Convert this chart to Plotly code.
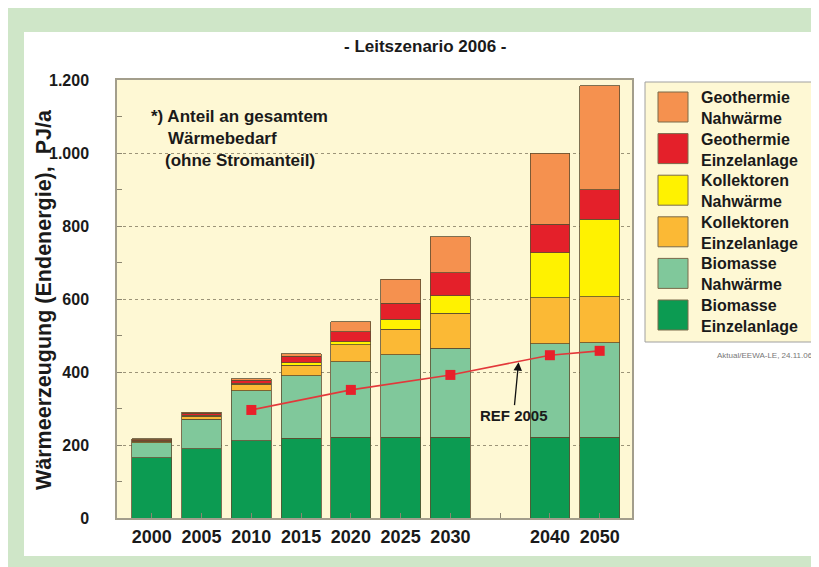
import plotly.graph_objects as go

# ---------------- data ----------------
years = ["2000", "2005", "2010", "2015", "2020", "2025", "2030", "2040", "2050"]
axis_categories = ["2000", "2005", "2010", "2015", "2020", "2025", "2030", " ", "2040", "2050"]

bio_einzel = [165, 190, 211, 218, 221, 221, 221, 221, 221]
bio_nah = [41, 81, 137, 172, 207, 226, 244, 256, 259]
koll_einzel = [4, 8, 18, 29, 46, 70, 96, 127, 126]
koll_nah = [1, 2, 3, 6, 9, 27, 48, 123, 212]
geo_einzel = [4, 6, 9, 18, 27, 44, 63, 78, 81]
geo_nah = [2, 3, 3, 7, 28, 66, 99, 194, 285]

series_names = [("Biomasse", "Einzelanlage"), ("Biomasse", "Nahwärme"),
                ("Kollektoren", "Einzelanlage"), ("Kollektoren", "Nahwärme"),
                ("Geothermie", "Einzelanlage"), ("Geothermie", "Nahwärme")]
series_values = [bio_einzel, bio_nah, koll_einzel, koll_nah, geo_einzel, geo_nah]
series_colors = ["#0c9b52", "#80c89b", "#fbb935", "#fff200", "#e4202a", "#f5914f"]

ref_years = ["2010", "2020", "2030", "2040", "2050"]
ref_values = [296, 351, 392, 446, 458]

pct_years = ["2005", "2020", "2030", "2040", "2050"]
pct_labels = ["6,3 %<sup>*)</sup>", "14 %", "23 %", "34 %", "48 %"]

y_tickvals = [0, 200, 400, 600, 800, 1000, 1200]
y_ticktext = ["0", "200", "400", "600", "800", "1.000", "1.200"]

totals = [sum(v) for v in zip(*series_values)]

# ---------------- geometry (screen pixels; page body has an 8px margin) ----------------
OFF = 8
W, H = 819 - OFF, 567 - OFF
PL, PR, PT, PB = 117, 632, 80, 518   # plot area in screen pixels


def px(xs):
    return (xs - PL) / (PR - PL)


def py(ys):
    return (PB - ys) / (PB - PT)


FONT = "Arial, Liberation Sans, sans-serif"
PLOT_BG = "#fef8d4"
TXT = "#1a1a1a"

fig = go.Figure()

for (n1, n2), vals, col in zip(series_names, series_values, series_colors):
    fig.add_trace(go.Bar(
        x=years, y=vals, name=n1 + " " + n2,
        marker=dict(color=col, line=dict(color="#5e4e30", width=0.8)),
        width=0.8, showlegend=False))

fig.add_trace(go.Scatter(
    x=ref_years, y=ref_values, mode="lines+markers", name="REF 2005",
    line=dict(color="#e2383a", width=1.6),
    marker=dict(symbol="square", size=10, color="#e8202a"),
    showlegend=False))

shapes = []
# white page panel
shapes.append(dict(type="rect", xref="paper", yref="paper", layer="below",
                   x0=px(24), x1=px(830), y0=py(556), y1=py(32),
                   fillcolor="white", line=dict(width=0)))
# plot background on top of panel
shapes.append(dict(type="rect", xref="paper", yref="paper", layer="below",
                   x0=0, x1=1, y0=0, y1=1,
                   fillcolor=PLOT_BG, line=dict(width=0)))
# legend box
shapes.append(dict(type="rect", xref="paper", yref="paper", layer="below",
                   x0=px(645), x1=px(815), y0=py(342), y1=py(82),
                   fillcolor=PLOT_BG, line=dict(color="#a0a0a0", width=1)))

annotations = []
# legend entries (top = last series)
for i, ((n1, n2), col) in enumerate(zip(series_names[::-1], series_colors[::-1])):
    cy = 107 + 41.6 * i
    shapes.append(dict(type="rect", xref="paper", yref="paper",
                       x0=px(658), x1=px(688), y0=py(cy + 15), y1=py(cy - 15),
                       fillcolor=col, line=dict(color="#7a6a4a", width=1)))
    annotations.append(dict(xref="paper", yref="paper", x=px(699), y=py(cy + 1),
                            xanchor="left", yanchor="middle", align="left",
                            text="<b>" + n1 + "<br>" + n2 + "</b>", showarrow=False,
                            font=dict(family=FONT, size=16, color=TXT)))

annotations.append(dict(xref="paper", yref="paper", x=px(815), y=py(355),
                        xanchor="right", yanchor="middle", showarrow=False,
                        text="Aktual/EEWA-LE, 24.11.06",
                        font=dict(family=FONT, size=8, color="#777777")))

# title
annotations.append(dict(xref="paper", yref="paper", x=px(425), y=py(47),
                        xanchor="center", yanchor="middle", showarrow=False,
                        text="<b>- Leitszenario 2006 -</b>",
                        font=dict(family=FONT, size=17, color=TXT)))

# y axis title
annotations.append(dict(xref="paper", yref="paper", x=px(44), y=py(300),
                        xanchor="center", yanchor="middle", showarrow=False,
                        textangle=-90,
                        text="<b>Wärmeerzeugung (Endenergie),  PJ/a</b>",
                        font=dict(family=FONT, size=21.5, color=TXT)))

# footnote text
foot_lines = [("*) Anteil an gesamtem", 149, 116),
              ("Wärmebedarf", 166, 138),
              ("(ohne Stromanteil)", 163, 160)]
for txt, xx, yy in foot_lines:
    annotations.append(dict(xref="paper", yref="paper", x=px(xx), y=py(yy),
                            xanchor="left", yanchor="middle", showarrow=False,
                            text="<b>" + txt + "</b>",
                            font=dict(family=FONT, size=17, color=TXT)))

# percentage labels
for yr, lab in zip(pct_years, pct_labels):
    tot = totals[years.index(yr)]
    annotations.append(dict(x=yr, y=tot, xref="x", yref="y", showarrow=False,
                            yanchor="middle", yshift=17,
                            text="<b>" + lab + "</b>",
                            font=dict(family=FONT, size=16, color=TXT)))

# REF 2005 arrow label
annotations.append(dict(x=7.37, y=427, xref="x", yref="y", showarrow=True,
                        ax=-5, ay=53, arrowhead=2, arrowsize=1.3, arrowwidth=1.3,
                        arrowcolor="#111111", text="<b>REF 2005</b>",
                        font=dict(family=FONT, size=15, color=TXT)))

fig.update_layout(
    width=W, height=H,
    margin=dict(l=PL - OFF, r=W - (PR - OFF), t=PT - OFF, b=H - (PB - OFF), pad=0),
    paper_bgcolor="#cfe6c8",
    plot_bgcolor=PLOT_BG,
    barmode="stack",
    showlegend=False,
    shapes=shapes,
    annotations=annotations,
    font=dict(family=FONT, size=15, color=TXT),
    xaxis=dict(type="category", categoryorder="array", categoryarray=axis_categories,
               range=[-0.7, 9.65], showgrid=False, zeroline=False,
               showline=True, linecolor="#a39e8c", linewidth=1.5, mirror=True,
               ticks="inside", ticklen=5, tickcolor="#8c8670",
               tickvals=axis_categories, ticktext=axis_categories,
               ticklabelstandoff=2,
               tickfont=dict(family=FONT, size=18, color=TXT, weight="bold")),
    yaxis=dict(range=[0, 1200], tickvals=y_tickvals, ticktext=y_ticktext,
               showgrid=True, gridcolor="#9c9478", griddash="dot", gridwidth=1,
               zeroline=False, showline=True, linecolor="#a39e8c", linewidth=1.5,
               mirror=True, ticks="inside", ticklen=5, tickcolor="#8c8670",
               ticklabelstandoff=23,
               minor=dict(ticks="inside", ticklen=5, tickcolor="#8c8670",
                          dtick=100, showgrid=False),
               tickfont=dict(family=FONT, size=16, color=TXT, weight="bold")),
)

fig.write_html("out.html")
